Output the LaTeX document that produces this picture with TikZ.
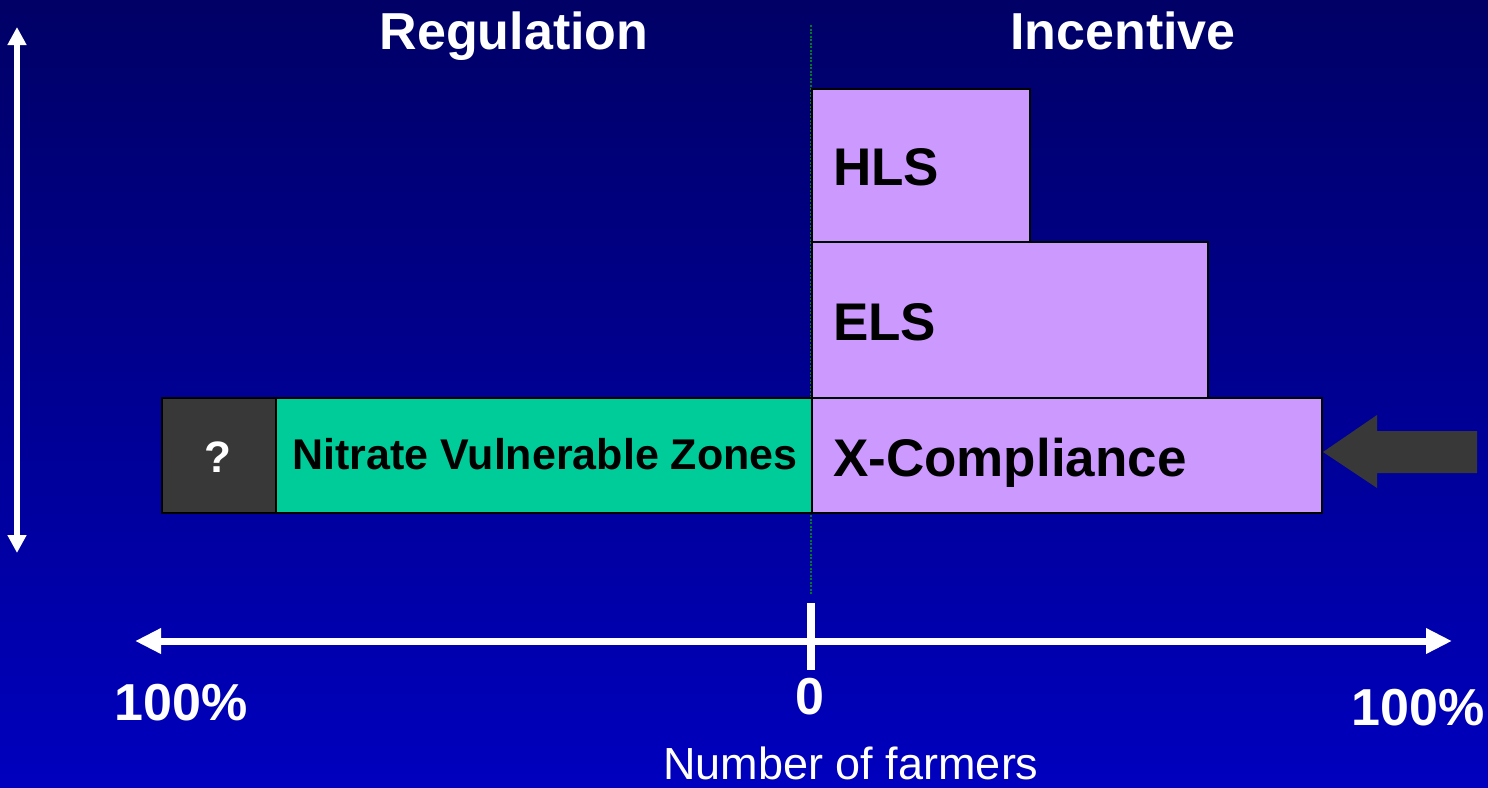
\documentclass[tikz,border=0pt]{standalone}
\usepackage{fontspec}
\setmainfont{Liberation Sans}
\usetikzlibrary{arrows.meta}
\definecolor{navytop}{RGB}{0,0,102}
\definecolor{navybot}{RGB}{0,0,190}
\definecolor{lilac}{RGB}{204,153,255}
\definecolor{seagreen}{RGB}{0,204,153}
\definecolor{darkgrey}{RGB}{56,56,56}
\definecolor{dotgreen}{RGB}{0,120,40}
\tikzset{
	scheme/.style={draw=black, line width=2pt, inner sep=0pt, anchor=north west},
	bigtxt/.style={font=\fontsize{52}{60}\selectfont\bfseries, inner sep=0pt, anchor=base},
	boxtxt/.style={font=\fontsize{53}{60}\selectfont\bfseries, inner sep=0pt, anchor=base west},
	axisline/.style={draw=white, line width=7pt},
}
\begin{document}
\begin{tikzpicture}[x=1pt,y=1pt,yscale=-1]
	% background
	\shade[top color=navytop, bottom color=navybot] (0,0) rectangle (1488,787);
	\useasboundingbox (0,0) rectangle (1488,787);
	% vertical arrow
	\coordinate (vtop) at (17,27);
	\coordinate (vbot) at (17,553);
	\draw[white, line width=6.5pt, {Triangle[width=18pt,length=18pt]}-{Triangle[width=18pt,length=18pt]}] (vtop) -- (vbot);
	% zero line
	\coordinate (ztop) at (811,25);
	\coordinate (zbot) at (811,595);
	\draw[dotgreen, line width=2pt, dash pattern=on 2pt off 1.5pt] (ztop) -- (zbot);
	% bars
	\node[scheme, fill=lilac, minimum width=218, minimum height=153] (hls) at (811,88) {};
	\node[scheme, fill=lilac, minimum width=396, minimum height=156] (els) at (811,241) {};
	\node[scheme, fill=lilac, minimum width=510, minimum height=115] (xc) at (811,397) {};
	\node[scheme, fill=seagreen, minimum width=536, minimum height=115] (nvz) at (275,397) {};
	\node[scheme, fill=darkgrey, minimum width=114, minimum height=115] (unk) at (161,397) {};
	\node[boxtxt] (hlstxt) at (833,185) {HLS};
	\node[boxtxt] (elstxt) at (833,340) {ELS};
	\node[boxtxt] (xctxt) at (833,476) {X-Compliance};
	\node[font=\fontsize{43}{48}\selectfont\bfseries, inner sep=0pt, anchor=base] (nvztxt) at (545,469) {Nitrate Vulnerable Zones};
	\node[font=\fontsize{44}{48}\selectfont\bfseries, text=white, inner sep=0pt, anchor=base] (unktxt) at (218,472) {?};
	% pointer
	\fill[darkgrey] (1477,431) -- (1377,431) -- (1377,415) -- (1323,452) -- (1377,488) -- (1377,473) -- (1477,473) -- cycle;
	% axis
	\coordinate (aleft) at (135,641);
	\coordinate (aright) at (1452,641);
	\draw[axisline, {Triangle[width=24pt,length=26pt]}-{Triangle[width=24pt,length=26pt]}] (aleft) -- (aright);
	\coordinate (ttop) at (811,603);
	\coordinate (tbot) at (811,670);
	\draw[white, line width=8pt] (ttop) -- (tbot);
	% labels
	\node[bigtxt, text=white] (reg) at (514,49) {Regulation};
	\node[bigtxt, text=white] (inc) at (1123,49) {Incentive};
	\node[bigtxt, text=white] (pl) at (181,720) {100\%};
	\node[bigtxt, text=white] (zero) at (810,714) {0};
	\node[bigtxt, text=white] (pr) at (1418,725) {100\%};
	\node[font=\fontsize{45}{50}\selectfont, text=white, inner sep=0pt, anchor=base] (nof) at (851,779) {Number of farmers};
\end{tikzpicture}
\end{document}
